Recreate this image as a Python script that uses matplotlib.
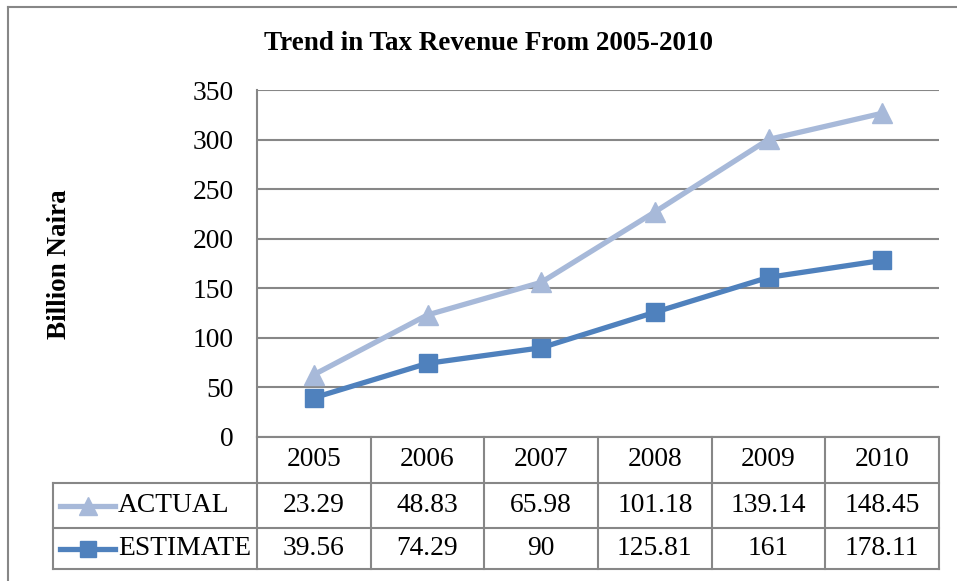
import numpy as np
import matplotlib
matplotlib.use("Agg")
import matplotlib.pyplot as plt
from matplotlib.lines import Line2D

# data
years = ["2005", "2006", "2007", "2008", "2009", "2010"]
actual = [23.29, 48.83, 65.98, 101.18, 139.14, 148.45]
estimate = [39.56, 74.29, 90, 125.81, 161, 178.11]
yticks = [0, 50, 100, 150, 200, 250, 300, 350]

c_act = "#A7B9D9"
c_est = "#4F81BD"
c_grid = "#878787"

plt.rcParams['font.family'] = ['Liberation Serif', 'DejaVu Serif']
FS = 19.8

W, H = 957, 581
fig = plt.figure(figsize=(W / 100, H / 100), dpi=100)
fig.patch.set_facecolor("white")

# plot area in pixels
L, R, T, B = 257, 939, 90, 437
ax = fig.add_axes([L / W, 1 - B / H, (R - L) / W, (B - T) / H])

x = np.arange(len(years))
# stacked line chart: the ACTUAL line sits on top of ESTIMATE
est = np.array(estimate)
act_stacked = est + np.array(actual)

ax.set_xlim(-0.5, len(years) - 0.5)
ax.set_ylim(0, 350)
ax.set_yticks(yticks)
ax.set_xticks([])
ax.yaxis.grid(True, color=c_grid, lw=1.5)
ax.set_axisbelow(True)
for s in ["top", "right", "bottom"]:
    ax.spines[s].set_visible(False)
ax.spines["left"].set_color(c_grid)
ax.spines["left"].set_linewidth(1.5)
ax.tick_params(axis="y", length=0, pad=17, labelsize=FS)

ax.plot(x, act_stacked, color=c_act, lw=3.8, marker="^", ms=14, zorder=3)
ax.plot(x, est, color=c_est, lw=3.8, marker="s", ms=13, zorder=4)

# data table under the plot
tr = ax.get_xaxis_transform()
ph = B - T
r1 = -(483 - B) / ph
r2 = -(528 - B) / ph
r3 = -(569 - B) / ph
xleft = -0.5 - (L - 53) / ((R - L) / len(years))
kw = dict(color=c_grid, lw=1.5, transform=tr, clip_on=False)
ax.plot([-0.5, 5.5], [0, 0], **kw)
for yy in [r1, r2, r3]:
    ax.plot([xleft, 5.5], [yy, yy], **kw)
for xx in np.arange(-0.5, 6, 1):
    ax.plot([xx, xx], [0, r3], **kw)
ax.plot([xleft, xleft], [r1, r3], **kw)

for i, yr in enumerate(years):
    ax.text(i, r1 / 2, yr, transform=tr, ha="center", va="center", fontsize=FS)
    ax.text(i, (r1 + r2) / 2, f"{actual[i]:g}", transform=tr, ha="center", va="center", fontsize=FS)
    ax.text(i, (r2 + r3) / 2, f"{estimate[i]:g}", transform=tr, ha="center", va="center", fontsize=FS)

# legend keys inside the table
u = (R - L) / len(years)
kx0 = -0.5 - (L - 60) / u
kx1 = -0.5 - (L - 115) / u
for yy, col, mk, ms, name in [((r1 + r2) / 2, c_act, "^", 13, "ACTUAL"),
                               ((r2 + r3) / 2, c_est, "s", 12, "ESTIMATE")]:
    ax.add_line(Line2D([kx0, kx1], [yy, yy], color=col, lw=3.8, transform=tr, clip_on=False))
    ax.add_line(Line2D([(kx0 + kx1) / 2], [yy], color=col, marker=mk, ms=ms, transform=tr, clip_on=False))
    ax.text(-0.5 - (L - 118) / u, yy, name, transform=tr, ha="left", va="center", fontsize=FS)

# titles
fig.text(488 / W, 1 - 43 / H, "Trend in Tax Revenue From 2005-2010", ha="center", va="center",
         fontsize=19.5, fontweight="bold")
fig.text(60 / W, 1 - 264 / H, "Billion Naira", ha="center", va="center", rotation=90,
         fontsize=19.5, fontweight="bold")

# chart border
fig.add_artist(Line2D([8 / W, 8 / W], [0, 1 - 7 / H], color=c_grid, lw=1.5))
fig.add_artist(Line2D([8 / W, 1], [1 - 7 / H, 1 - 7 / H], color=c_grid, lw=1.5))

fig.savefig("out.png", dpi=100)
